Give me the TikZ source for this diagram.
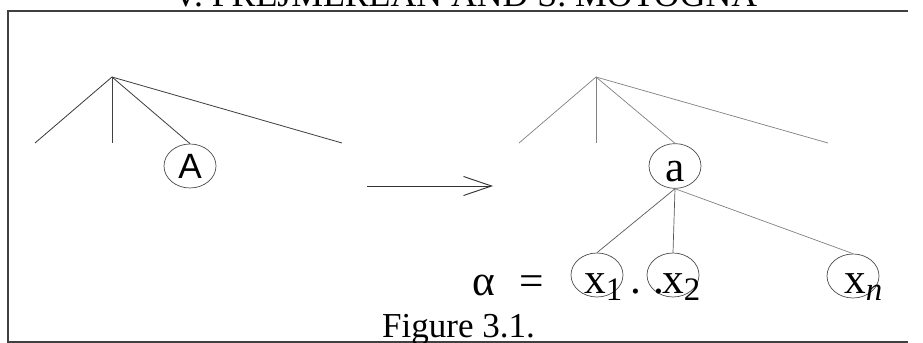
\documentclass[tikz,border=0pt]{standalone}
\usepackage{fontspec}
\setmainfont{Liberation Serif}
\newfontfamily\helvfont{Liberation Sans}
\usepackage{tikz}
\usetikzlibrary{shapes.geometric,arrows.meta,positioning,calc}

\newcommand{\lowsub}[1]{\raisebox{-6pt}{\fontsize{28}{28}\selectfont #1}}

\begin{document}
\begin{tikzpicture}[
    x=0.03cm, y=-0.03cm,
    treenode/.style={ellipse, draw=black!70, line width=0.6pt, minimum width=1.56cm, minimum height=1.32cm, inner sep=0pt},
    leftedge/.style={draw=black!75, line width=0.7pt},
    rightedge/.style={draw=black!50, line width=0.6pt},
    bigtext/.style={inner sep=0pt, anchor=base west, font=\fontsize{37}{40}\selectfont},
    arrow/.style={-{Straight Barb[length=0.84cm, width=0.57cm]}, line width=0.8pt, black!80}
]
\clip (0,0) rectangle (923,343);

% page header and frame
\node[inner sep=0pt, anchor=base, font=\fontsize{30.5}{32}\selectfont] (header) at (465,7) {V. PREJMEREAN AND S. MOTOGNA};
\draw[black!75, line width=1.1pt] (908,11) -- (8,11) -- (8,342) -- (908,342);

% left tree
\coordinate (lroot) at (112,77);
\coordinate (l1) at (35,143);
\coordinate (l2) at (112,143);
\coordinate (l4) at (342,143);
\node[treenode, font=\helvfont\fontsize{30}{30}\selectfont] (A) at (190,166) {A};
\draw[leftedge] (lroot) -- (l1);
\draw[leftedge] (lroot) -- (l2);
\draw[leftedge] (lroot) -- (A.north);
\draw[leftedge] (lroot) -- (l4);

% rewriting arrow
\coordinate (astart) at (367,186);
\coordinate (aend) at (493,186);
\draw[arrow] (astart) -- (aend);

% right tree
\coordinate (rroot) at (596,77);
\coordinate (r1) at (519,143);
\coordinate (r2) at (596,143);
\coordinate (r4) at (828,143);
\node[treenode, font=\fontsize{37}{37}\selectfont, text height=27pt, text depth=0pt] (a) at (675,166) {a};
\draw[rightedge] (rroot) -- (r1);
\draw[rightedge] (rroot) -- (r2);
\draw[rightedge] (rroot) -- (a.north);
\draw[rightedge] (rroot) -- (r4);

% children of a
\node[treenode] (x1) at (597,275) {};
\node[treenode] (x2) at (673,275) {};
\node[treenode] (xn) at (853,276) {};
\draw[rightedge, draw=black!65] (a.south) -- (x1.north);
\draw[rightedge, draw=black!65] (a.south) -- (x2.north);
\draw[rightedge] (a.south) -- (xn.north);

% the string alpha
\node[bigtext] (alpha) at (472,295) {α};
\node[bigtext, anchor=base] (eq) at (532,295) {=};
\node[bigtext] (t1) at (584,293) {x\lowsub{1}};
\node[bigtext, anchor=base] (d1) at (636,293) {.};
\node[bigtext, anchor=base] (d2) at (659,293) {.};
\node[bigtext] (t2) at (662,293) {x\lowsub{2}};
\node[bigtext] (tn) at (844,293) {x\lowsub{\textit{n}}};

% caption
\node[inner sep=0pt, anchor=base west, font=\fontsize{29.9}{32}\selectfont] (caption) at (382,337) {Figure 3.1.};
\end{tikzpicture}
\end{document}
